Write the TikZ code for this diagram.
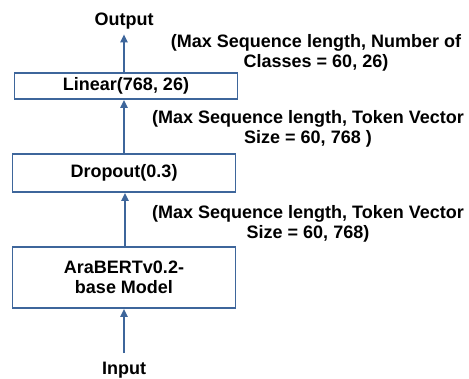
\documentclass[tikz,border=0pt]{standalone}
\usepackage{fontspec}
\setmainfont{Liberation Sans}
\usetikzlibrary{arrows.meta}
\definecolor{boxblue}{RGB}{62,102,155}
\tikzset{
  blk/.style={draw=boxblue, line width=1.6pt, minimum width=223pt, inner sep=0pt, align=center},
  arr/.style={draw=boxblue, line width=2pt, -{Triangle[length=8pt,width=7pt]}},
  lbl/.style={align=center, inner sep=0pt}
}
\begin{document}
\begin{tikzpicture}[x=1pt, y=-1pt, font=\bfseries\fontsize{18}{20.5}\selectfont]
  \useasboundingbox (0,0) rectangle (469,379);
  % layers
  \node[blk, minimum height=26pt] (Lin) at (126,86) {Linear(768, 26)};
  \node[blk, minimum height=38pt] (Drop) at (124,173) {Dropout(0.3)};
  \node[blk, minimum height=61pt] (Bert) at (124,277.5) {AraBERTv0.2-\\base Model};
  \node[anchor=base] (Out) at (124,26) {Output};
  \node[anchor=base] (In) at (124,375) {Input};
  % shapes
  \node[lbl] (S1) at (316,53) {(Max Sequence length, Number of\\Classes = 60, 26)};
  \node[lbl] (S2) at (308,129) {(Max Sequence length, Token Vector\\Size = 60, 768 )};
  \node[lbl] (S3) at (308,224) {(Max Sequence length, Token Vector\\Size = 60, 768)};
  % flow
  \draw[arr, shorten <=6pt] (In.north) -- (Bert.south);
  \draw[arr] ([xshift=1pt]Bert.north) -- ([xshift=1pt]Drop.south);
  \draw[arr] (Drop.north) -- (Drop.north |- Lin.south);
  \draw[arr, shorten >=1pt] (Lin.north -| Out) -- (Out.south);
\end{tikzpicture}
\end{document}
